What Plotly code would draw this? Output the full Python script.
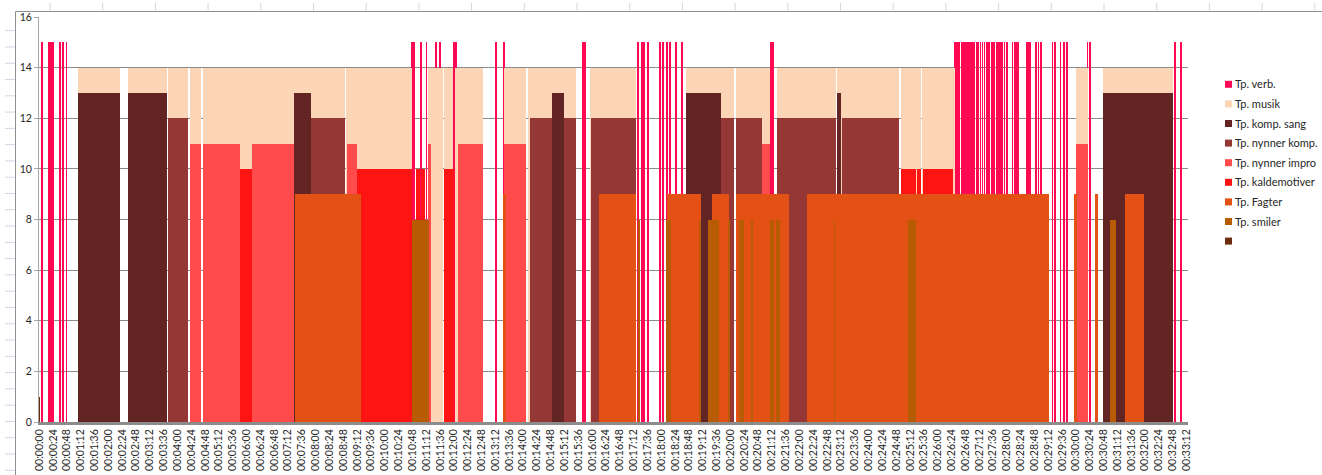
import plotly.graph_objects as go

# ---------------------------------------------------------------------------
# Data: coded observation intervals (start second, end second) per category.
# Every category is drawn at its own fixed level on the y-axis.
# ---------------------------------------------------------------------------
SERIES_NAMES = [
    "Tp. verb.", "Tp. musik", "Tp. komp. sang", "Tp. nynner komp.",
    "Tp. nynner impro", "Tp. kaldemotiver", "Tp. Fagter", "Tp. smiler", "",
]
SERIES_LEVELS = [15, 14, 13, 12, 11, 10, 9, 8, 1]
SERIES_COLORS = [
    "#ff0a52", "#fbd5b5", "#632523", "#953735",
    "#ff4b4b", "#ff1414", "#e35214", "#b85c04", "#6b2b0d",
]

verb_spans = [
    (4, 5.5), (16, 17.5), (20, 21.5), (24, 25.5), (35, 36.5), (41, 42.5), (47, 48.5),
    (647, 648.5), (651, 652.5), (662, 663.5), (672, 673.5), (688, 689.5), (695, 696.5),
    (720, 721), (724, 725), (792, 793.5), (806, 807.5), (944, 945.5), (948, 949.5),
    (1040, 1041.5), (1046, 1048), (1050, 1052), (1056, 1057.5),
    (1078, 1080), (1082, 1083.5), (1090, 1091.5), (1095, 1096.5), (1105, 1106.5), (1116, 1117.5),
    (1270, 1277),
    (1589, 1590), (1592, 1593), (1595, 1596), (1598, 1599), (1601, 1602), (1604, 1605),
    (1607, 1608), (1610, 1611), (1613, 1614), (1616, 1617), (1619, 1620), (1623, 1624),
    (1628, 1629), (1631, 1632), (1634, 1635), (1638, 1639), (1641, 1642),
    (1645, 1652), (1653, 1660), (1661, 1666), (1667, 1673),
    (1676, 1677), (1680, 1681),
    (1690, 1691), (1694, 1695), (1698, 1701), (1714, 1723),
    (1731, 1732), (1735, 1736), (1739, 1740), (1759, 1760), (1764, 1765),
    (1773, 1774), (1778, 1780), (1784, 1787), (1820, 1821), (1824, 1827),
    (1972, 1974), (1982, 1984),
]
musik_spans = [
    (67, 140), (155, 223), (224, 258), (262, 282), (284, 531), (533, 647),
    (675, 701), (703, 719), (722, 771), (808, 845), (849, 890), (891, 932),
    (956, 1036), (1124, 1207), (1210, 1269), (1281, 1383), (1385, 1494),
    (1496, 1532), (1534, 1590), (1800, 1822), (1847, 1969),
]
komp_sang_spans = [
    (67, 140), (155, 223), (442, 472), (891, 911), (1124, 1184), (1386, 1393), (1847, 1969),
]
nynner_komp_spans = [
    (224, 258), (472, 531), (852, 890), (911, 932), (958, 1036), (1184, 1207),
    (1210, 1256), (1282, 1383), (1394, 1494),
]
nynner_impro_spans = [
    (262, 282), (284, 349), (369, 442), (534, 553), (676, 681), (727, 771),
    (808, 845), (1256, 1270), (1801, 1822),
]
kaldemotiver_spans = [
    (349, 369), (553, 647), (655, 662), (664, 671), (704, 720),
    (1497, 1522), (1524, 1532), (1535, 1587),
]
fagter_spans = [
    (444, 559), (807, 810), (972, 1036), (1091, 1149), (1169, 1198), (1210, 1281),
    (1282, 1303), (1333, 1753), (1797, 1802), (1834, 1838), (1886, 1918),
]
smiler_spans = [
    (647, 678), (1041, 1044), (1088, 1097), (1146, 1149), (1161, 1180), (1196, 1200),
    (1216, 1224), (1237, 1238), (1270, 1276), (1279, 1287), (1381, 1382),
    (1509, 1522), (1859, 1870),
]
unnamed_spans = [(0, 1)]

ALL_SPANS = [
    verb_spans, musik_spans, komp_sang_spans, nynner_komp_spans,
    nynner_impro_spans, kaldemotiver_spans, fagter_spans, smiler_spans, unnamed_spans,
]

# time axis: one label every 24 seconds
TICK_SECONDS = list(range(0, 1993, 24))
TICK_LABELS = [f"{s // 3600:02d}:{(s % 3600) // 60:02d}:{s % 60:02d}" for s in TICK_SECONDS]
Y_TICKS = [0, 2, 4, 6, 8, 10, 12, 14, 16]

# ---------------------------------------------------------------------------
W, H = 1322, 475
PLOT_L, PLOT_R, PLOT_T, PLOT_B = 39, 1188, 17, 422
FONT = "Lato"
TEXT = "#262626"


def px_x(px):
    return (px - PLOT_L) / (PLOT_R - PLOT_L)


def px_y(py):
    return (PLOT_B - py) / (PLOT_B - PLOT_T)


fig = go.Figure()

# later series are painted over earlier ones
for name, level, color, spans in zip(SERIES_NAMES, SERIES_LEVELS, SERIES_COLORS, ALL_SPANS):
    fig.add_trace(go.Bar(
        x=[(s + e) / 2 - 0.5 for s, e in spans],
        width=[e - s for s, e in spans],
        y=[level] * len(spans),
        marker=dict(color=color, line=dict(width=0, color=color)),
        name=name,
        showlegend=False,
        hoverinfo="skip",
    ))

shapes = []
annotations = []

# worksheet grid peeking around the chart object
x = 50.0
while x < W:
    shapes.append(dict(type="line", xref="paper", yref="paper",
                       x0=px_x(x), x1=px_x(x), y0=px_y(3), y1=px_y(10.5),
                       line=dict(color="#cfd6e3", width=1)))
    x += 52.7
y = 30.7
while y < H:
    shapes.append(dict(type="line", xref="paper", yref="paper",
                       x0=px_x(5), x1=px_x(15), y0=px_y(y), y1=px_y(y),
                       line=dict(color="#cfd6e3", width=1)))
    y += 16.28
# chart object border
shapes.append(dict(type="line", xref="paper", yref="paper",
                   x0=px_x(15.5), x1=px_x(W), y0=px_y(11.5), y1=px_y(11.5),
                   line=dict(color="#8f8f8f", width=1)))
shapes.append(dict(type="line", xref="paper", yref="paper",
                   x0=px_x(15.5), x1=px_x(15.5), y0=px_y(11.5), y1=px_y(H),
                   line=dict(color="#8f8f8f", width=1)))

# legend: small square swatch followed by the label
for i, (name, color) in enumerate(zip(SERIES_NAMES, SERIES_COLORS)):
    cy = 84.3 + i * 19.6
    shapes.append(dict(type="rect", xref="paper", yref="paper",
                       x0=px_x(1225), x1=px_x(1232), y0=px_y(cy + 3.5), y1=px_y(cy - 3.5),
                       fillcolor=color, line=dict(width=0)))
    if name:
        annotations.append(dict(xref="paper", yref="paper", x=px_x(1233), y=px_y(cy - 0.5),
                                text=name, showarrow=False, xanchor="left", yanchor="middle",
                                font=dict(family=FONT, size=11, color=TEXT)))

fig.update_layout(
    width=W, height=H,
    margin=dict(l=PLOT_L, r=W - PLOT_R, t=PLOT_T, b=H - PLOT_B, autoexpand=False),
    paper_bgcolor="white", plot_bgcolor="white",
    barmode="overlay", bargap=0,
    showlegend=False,
    shapes=shapes, annotations=annotations,
    font=dict(family=FONT, size=10.5, color=TEXT),
    xaxis=dict(
        range=[-0.5, 1994.5], tickmode="array", tickvals=TICK_SECONDS, ticktext=TICK_LABELS,
        tickangle=-90, showgrid=False, zeroline=False, showline=True, automargin=False,
        linecolor="#8c8c8c", linewidth=3, ticks="", tickfont=dict(family=FONT, size=10.5, color=TEXT),
    ),
    yaxis=dict(
        range=[0, 16], tickmode="array", tickvals=Y_TICKS, showgrid=True, automargin=False,
        gridcolor="#8a8a8a", gridwidth=1, zeroline=False, showline=True,
        linecolor="#a6a6a6", linewidth=1, ticks="outside", ticklen=4, tickcolor="#a6a6a6",
        tickfont=dict(family=FONT, size=10.5, color=TEXT),
    ),
)

fig.write_html("out.html")
